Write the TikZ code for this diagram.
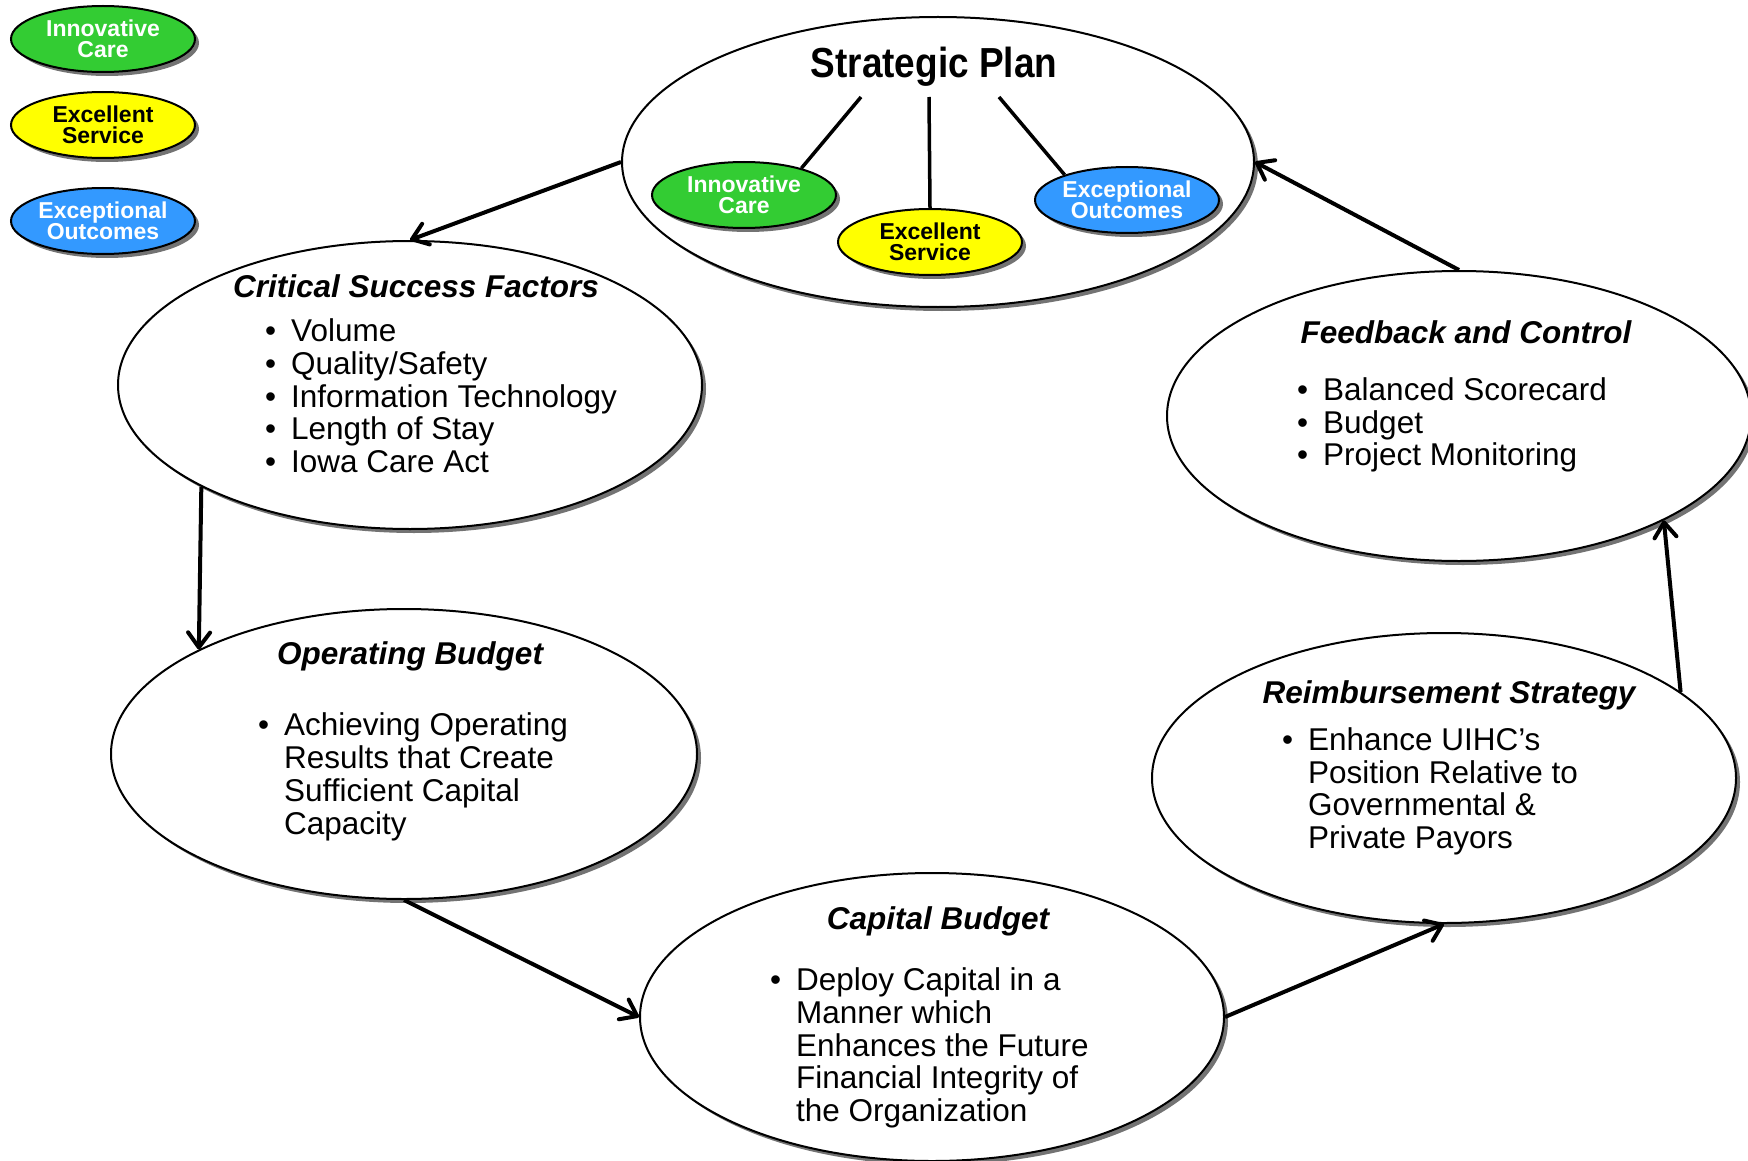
\documentclass[tikz,border=0pt]{standalone}
\usepackage{fontspec}
\setmainfont{Liberation Sans}
\newfontfamily\spfont[FakeStretch=0.88]{Liberation Sans}
\usetikzlibrary{shapes.geometric,shadows,arrows.meta}
\definecolor{icgreen}{HTML}{33CC33}
\definecolor{esyellow}{HTML}{FFFF00}
\definecolor{eoblue}{HTML}{3399FF}
\newcommand\bulmark{\llap{•\hspace{15pt}}}
\begin{document}
\begin{tikzpicture}[x=1pt,y=1pt,
  shd/.style={drop shadow={shadow xshift=4pt,shadow yshift=-4pt,fill=black!55,opacity=1}},
  big/.style={ellipse,draw,line width=2pt,fill=white,inner sep=0pt,minimum width=584pt,minimum height=290pt,shd},
  small/.style={ellipse,draw,line width=2pt,inner sep=0pt,minimum width=184pt,minimum height=66pt,
     font=\fontsize{23}{21.5}\selectfont\bfseries,align=center,shd},
  title/.style={anchor=base,inner sep=0pt,font=\fontsize{31.5}{33}\selectfont\bfseries\itshape},
  item/.style={anchor=base west,inner sep=0pt,font=\fontsize{31.5}{33}\selectfont},
  flow/.style={line width=4pt,-{Straight Barb[length=15pt,width=22pt,line width=4pt,round]}},
  spoke/.style={line width=3.5pt}
]
\useasboundingbox (0,0) rectangle (1748,-1161);
\clip (0,0) rectangle (1748,-1161);

% big ellipses
\node[big,minimum width=632pt] (sp) at (938,-162) {};
\node[big,minimum height=288pt] (csf) at (410,-385) {};
\node[big,minimum width=586pt] (ob) at (404,-754) {};
\node[big,minimum height=288pt] (cb) at (932,-1017) {};
\node[big] (rs) at (1444,-778) {};
\node[big] (fc) at (1459,-416) {};

% legend
\node[small,fill=icgreen,text=white] (lic) at (103,-39) {Innovative\\Care};
\node[small,fill=esyellow,text=black] (les) at (103,-125) {Excellent\\Service};
\node[small,fill=eoblue,text=white] (leo) at (103,-221) {Exceptional\\Outcomes};

% strategic plan
\node[anchor=base,inner sep=0pt,font=\fontsize{42}{44}\selectfont\spfont\bfseries] (spt) at (934,-78) {Strategic Plan};
\node[small,fill=icgreen,text=white] (ic) at (744,-195) {Innovative\\Care};
\node[small,fill=esyellow,text=black] (es) at (930,-242) {Excellent\\Service};
\node[small,fill=eoblue,text=white] (eo) at (1127,-200) {Exceptional\\Outcomes};
\coordinate (s1) at (861,-97);
\coordinate (s2) at (929,-97);
\coordinate (s3) at (999,-97);
\draw[spoke] (s1) -- (ic.25);
\draw[spoke] (s2) -- (es.north);
\draw[spoke] (s3) -- (eo.158);

% critical success factors
\node[title] (csft) at (416,-297) {Critical Success Factors};
\node[item] (csf1) at (291,-341) {\bulmark Volume};
\node[item] (csf2) at (291,-374) {\bulmark Quality/Safety};
\node[item] (csf3) at (291,-407) {\bulmark Information Technology};
\node[item] (csf4) at (291,-439) {\bulmark Length of Stay};
\node[item] (csf5) at (291,-472) {\bulmark Iowa Care Act};

% operating budget
\node[title] (obt) at (410,-664) {Operating Budget};
\node[item] (ob1) at (284,-735) {\bulmark Achieving Operating};
\node[item] (ob2) at (284,-768) {Results that Create};
\node[item] (ob3) at (284,-801) {Sufficient Capital};
\node[item] (ob4) at (284,-834) {Capacity};

% capital budget
\node[title] (cbt) at (938,-929) {Capital Budget};
\node[item] (cb1) at (796,-990) {\bulmark Deploy Capital in a};
\node[item] (cb2) at (796,-1023) {Manner which};
\node[item] (cb3) at (796,-1056) {Enhances the Future};
\node[item] (cb4) at (796,-1088) {Financial Integrity of};
\node[item] (cb5) at (796,-1121) {the Organization};

% reimbursement strategy
\node[title] (rst) at (1449,-703) {Reimbursement Strategy};
\node[item] (rs1) at (1308,-750) {\bulmark Enhance UIHC’s};
\node[item] (rs2) at (1308,-783) {Position Relative to};
\node[item] (rs3) at (1308,-815) {Governmental \&};
\node[item] (rs4) at (1308,-848) {Private Payors};

% feedback and control
\node[title] (fct) at (1466,-343) {Feedback and Control};
\node[item] (fc1) at (1323,-400) {\bulmark Balanced Scorecard};
\node[item] (fc2) at (1323,-433) {\bulmark Budget};
\node[item] (fc3) at (1323,-465) {\bulmark Project Monitoring};

% flow arrows
\draw[flow] (sp.180) -- (csf.90);
\draw[flow] (csf.206) -- (ob.153);
\draw[flow] (ob.270) -- (cb.180);
\draw[flow] (cb.0) -- (rs.270);
\draw[flow] (rs.20) -- (fc.333);
\draw[flow] (fc.90) -- (sp.0);
\end{tikzpicture}
\end{document}
